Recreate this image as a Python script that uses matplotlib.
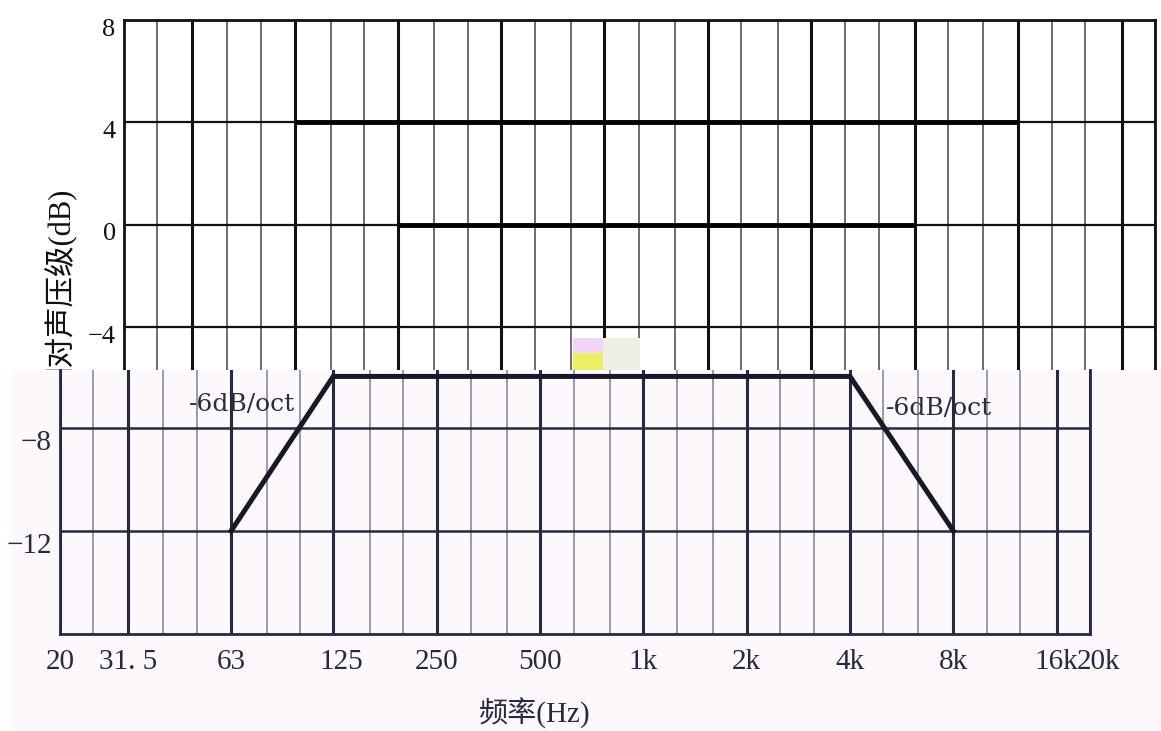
import matplotlib
matplotlib.use('Agg')
import matplotlib.pyplot as plt
from matplotlib.patches import Rectangle
from matplotlib.transforms import ScaledTranslation
from matplotlib.ticker import NullFormatter

# 1/3倍频程中心频率 (Hz)
third_octave = [20, 25, 31.5, 40, 50, 63, 80, 100, 125, 160, 200, 250, 315, 400,
                500, 630, 800, 1000, 1250, 1600, 2000, 2500, 3150, 4000, 5000,
                6300, 8000, 10000, 12500, 16000, 20000]
octave = [31.5, 63, 125, 250, 500, 1000, 2000, 4000, 8000, 16000]
tick_freq = [20, 31.5, 63, 125, 250, 500, 1000, 2000, 4000, 8000, 16000, 20000]
tick_text = ['20', '31. 5', '63', '125', '250', '500', '1k', '2k', '4k', '8k', '16k', '20k']

# 上半部分: 容差线
upper_freq = [63, 8000]
upper_db = [4, 4]
lower_freq = [125, 4000]
lower_db = [0, 0]
top_yticks = [8, 4, 0, -4]

# 下半部分: 频响曲线
curve_freq = [63, 125, 4000, 8000]
curve_db = [-12, -6, -6, -12]
bot_yticks = [-8, -12]

plt.rcParams['font.family'] = ['Liberation Serif', 'Noto Sans CJK SC']
mixed = ['Liberation Serif', 'Noto Sans CJK SC']  # 西文用衬线, 中文用 CJK

W, H = 1161, 731
fig = plt.figure(figsize=(W / 100, H / 100), dpi=100)
fig.patch.set_facecolor('white')


def box(x0, y0, x1, y1):  # 像素框 -> figure 坐标
    return [x0 / W, 1 - y1 / H, (x1 - x0) / W, (y1 - y0) / H]


bg = '#fcf8fc'
ink = '#2b2740'
ink_light = '#8c889e'

# ---------------- 上半部分 ----------------
ax1 = fig.add_axes(box(124, 20, 1155, 370), zorder=0)
ax1.set_xscale('log')
ax1.set_xlim(20, 20000)
ax1.set_ylim(-5.67, 8)
ax1.set_xticks(octave)
ax1.set_xticks(third_octave, minor=True)
ax1.xaxis.set_major_formatter(NullFormatter())
ax1.xaxis.set_minor_formatter(NullFormatter())
ax1.set_yticks(top_yticks)
ax1.tick_params(axis='x', which='both', length=0, labelbottom=False)
ax1.tick_params(axis='y', length=0, pad=6, labelsize=19, labelcolor='#111111')
ax1.grid(which='major', axis='x', color='#111111', lw=2.2)
ax1.grid(which='minor', axis='x', color='#444444', lw=1.1)
ax1.grid(which='major', axis='y', color='#111111', lw=1.6)
for s in ['top', 'left', 'right']:
    ax1.spines[s].set_linewidth(2)
    ax1.spines[s].set_color('#111111')
ax1.spines['bottom'].set_visible(False)
ax1.plot(upper_freq, upper_db, color='black', lw=3.5, solid_capstyle='butt')
ax1.plot(lower_freq, lower_db, color='black', lw=3.5, solid_capstyle='butt')
ax1.set_ylabel('相对声压级(dB)', fontfamily=mixed, fontsize=22, va='center', color='#111111')
ax1.yaxis.set_label_coords((60 - 124) / 1031, (370 - 293) / 350)
for lab in ax1.get_yticklabels():
    lab.set_transform(lab.get_transform() + ScaledTranslation(0, -0.07, fig.dpi_scale_trans))

# 下半部分覆盖上半部分
fig.add_artist(Rectangle((11 / W, 0), 1150 / W, 361 / H, transform=fig.transFigure,
                         fc=bg, ec='none', zorder=1))

# 扫描残留色块
for bx, col in [((573, 338, 603, 353), '#f4d4f4'), ((573, 353, 603, 370), '#eeee66'),
                ((603, 338, 640, 370), '#efefe4')]:
    x, y, w, h = box(*bx)
    fig.add_artist(Rectangle((x, y), w, h, transform=fig.transFigure, fc=col, ec='none', zorder=3))

# ---------------- 下半部分 ----------------
ax2 = fig.add_axes(box(60, 370, 1090, 634), zorder=2)
ax2.set_facecolor(bg)
ax2.set_xscale('log')
ax2.set_xlim(20, 20000)
ax2.set_ylim(-16, -5.75)
ax2.set_xticks(tick_freq)
ax2.set_xticklabels(tick_text)
ax2.set_xticks(third_octave, minor=True)
ax2.xaxis.set_minor_formatter(NullFormatter())
ax2.set_yticks(bot_yticks)
ax2.tick_params(axis='x', which='both', length=0, pad=11, labelsize=21, labelcolor=ink)
ax2.tick_params(axis='y', length=0, pad=6, labelsize=21, labelcolor=ink)
ax2.grid(which='major', axis='x', color=ink, lw=2.2)
ax2.grid(which='minor', axis='x', color=ink_light, lw=1.2)
ax2.grid(which='major', axis='y', color=ink, lw=1.8)
for s in ['left', 'bottom', 'right']:
    ax2.spines[s].set_linewidth(2)
    ax2.spines[s].set_color(ink)
ax2.spines['top'].set_visible(False)

ax2.plot(curve_freq, curve_db, color='#1a1828', lw=3.6, solid_joinstyle='miter')
ax2.text(97, -7.1, '-6dB/oct', ha='right', va='center', fontfamily='DejaVu Serif',
         fontsize=18, color='#2e2a3e')
ax2.text(5100, -7.25, '-6dB/oct', ha='left', va='center', fontfamily='DejaVu Serif',
         fontsize=18, color='#2e2a3e')

ax2.set_xlabel('频率(Hz)', fontfamily=mixed, fontsize=21, va='center', color=ink)
ax2.xaxis.set_label_coords((535 - 60) / 1030, -(713 - 634) / 264)

for lab in ax2.get_yticklabels():
    lab.set_transform(lab.get_transform() + ScaledTranslation(0, -0.12, fig.dpi_scale_trans))
xlabs = ax2.get_xticklabels()
for i in [3, len(xlabs) - 1]:
    xlabs[i].set_transform(xlabs[i].get_transform() + ScaledTranslation(0.08, 0, fig.dpi_scale_trans))

fig.savefig('out.png', dpi=100, facecolor='white')
